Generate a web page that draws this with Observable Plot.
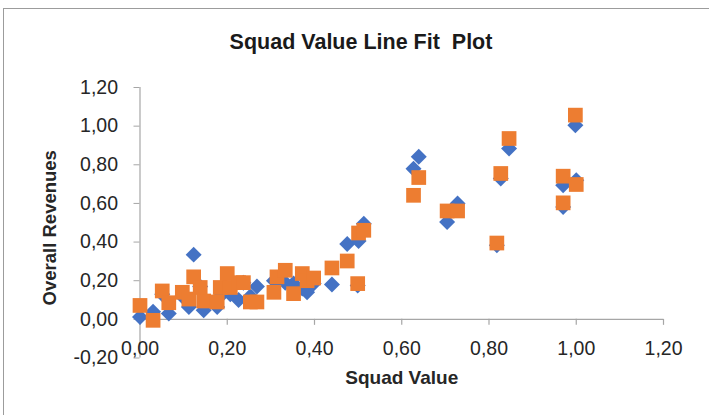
<!DOCTYPE html>
<html>
<head>
<meta charset="utf-8">
<script src="https://cdn.jsdelivr.net/npm/d3@7"></script>
<script src="https://cdn.jsdelivr.net/npm/@observablehq/plot@0.6"></script>
<style>
  html, body { margin: 0; padding: 0; background: #fff; }
  #chart { position: relative; width: 709px; height: 415px; overflow: hidden; font-family: "Liberation Sans", Arial, sans-serif; }
  #frame { position: absolute; left: 3px; top: 8px; width: 720px; height: 420px; border-top: 1px solid #9c9c9c; border-left: 1px solid #9c9c9c; }
  #title { position: absolute; left: 361px; top: 29px; transform: translateX(-50%); font-size: 21.5px; line-height: 26px; font-weight: bold; color: #1a1a1a; white-space: pre; }
  #chart svg { position: absolute; left: 0; top: 0; }
</style>
</head>
<body>
<div id="chart">
  <div id="frame"></div>
  <div id="title">Squad Value Line Fit  Plot</div>
</div>
<script>
// Squad value (x) of each club, with its observed and fitted overall revenues
const squadValue = [
  0.000, 0.030, 0.051, 0.066, 0.097, 0.123, 0.112, 0.146, 0.138, 0.177,
  0.184, 0.200, 0.207, 0.226, 0.237, 0.253, 0.268, 0.307, 0.314, 0.333,
  0.352, 0.372, 0.383, 0.398, 0.440, 0.475, 0.499, 0.501, 0.513, 0.627,
  0.639, 0.704, 0.728, 0.818, 0.827, 0.846, 0.970, 0.970, 0.998, 1.000
];
const overallRevenues = [
  0.012, 0.040, 0.130, 0.030, 0.120, 0.335, 0.064, 0.047, 0.170, 0.064,
  0.120, 0.150, 0.130, 0.100, 0.190, 0.120, 0.170, 0.200, 0.200, 0.190,
  0.185, 0.160, 0.140, 0.185, 0.180, 0.390, 0.175, 0.405, 0.495, 0.780,
  0.841, 0.504, 0.600, 0.383, 0.729, 0.884, 0.694, 0.582, 1.005, 0.720
];
const predictedRevenues = [
  0.072, -0.005, 0.147, 0.086, 0.140, 0.220, 0.105, 0.095, 0.165, 0.090,
  0.165, 0.237, 0.165, 0.190, 0.190, 0.090, 0.090, 0.140, 0.220, 0.254,
  0.133, 0.237, 0.200, 0.214, 0.266, 0.302, 0.185, 0.447, 0.461, 0.642,
  0.734, 0.561, 0.561, 0.395, 0.755, 0.936, 0.741, 0.603, 1.057, 0.698
];
const xTicks = [0, 0.2, 0.4, 0.6, 0.8, 1.0, 1.2];
const yTicks = [-0.2, 0, 0.2, 0.4, 0.6, 0.8, 1.0, 1.2];

const axisGray = "#a6a6a6";
const textColor = "#262626";
const blue = "#4472C4";
const orange = "#ED7D31";

// Decimal comma, plain hyphen for negatives
const fmt = d3.formatLocale({decimal: ",", thousands: ".", grouping: [3], currency: ["", ""], minus: "-"}).format(".2f");

const chart = Plot.plot({
  width: 709,
  height: 415,
  marginLeft: 139.5,
  marginRight: 46,
  marginTop: 87,
  marginBottom: 57.5,
  x: {domain: [0, 1.2], axis: null},
  y: {domain: [-0.2, 1.2], axis: null},
  style: {fontFamily: "'Liberation Sans', Arial, sans-serif", fontSize: "19.5px", color: textColor, background: "transparent", overflow: "visible"},
  marks: [
    // vertical axis line through x = 0 and horizontal one through y = 0
    Plot.ruleX([0], {stroke: axisGray, strokeWidth: 1.2}),
    Plot.ruleY([0], {stroke: axisGray, strokeWidth: 1.2}),
    Plot.axisY(yTicks, {anchor: "left", tickSize: 6, tickPadding: 16, tickFormat: fmt, stroke: axisGray, fill: textColor, label: null}),
    Plot.ruleX(xTicks, {x: d => d, y1: 0, y2: 0, insetBottom: -6, stroke: axisGray, strokeWidth: 1.2}),
    Plot.text(xTicks, {x: d => d, y: -0.2, dy: -9, text: fmt, fill: textColor, lineAnchor: "middle"}),
    Plot.text(["Squad Value"], {frameAnchor: "bottom", dy: 20, fontWeight: "bold", fontSize: 19, fill: textColor, lineAnchor: "middle"}),
    Plot.text(["Overall Revenues"], {frameAnchor: "left", dx: -90, dy: 5, rotate: -90, textAnchor: "middle", fontWeight: "bold", fontSize: 18.5, fill: textColor, lineAnchor: "middle"}),
    // observed values
    Plot.dot(squadValue, {x: squadValue, y: overallRevenues, symbol: "diamond2", r: 7.2, fill: blue, stroke: null}),
    // fitted values
    Plot.dot(squadValue, {x: squadValue, y: predictedRevenues, symbol: "square", r: 8.3, fill: orange, stroke: null})
  ]
});
document.getElementById("chart").appendChild(chart);
</script>
</body>
</html>
